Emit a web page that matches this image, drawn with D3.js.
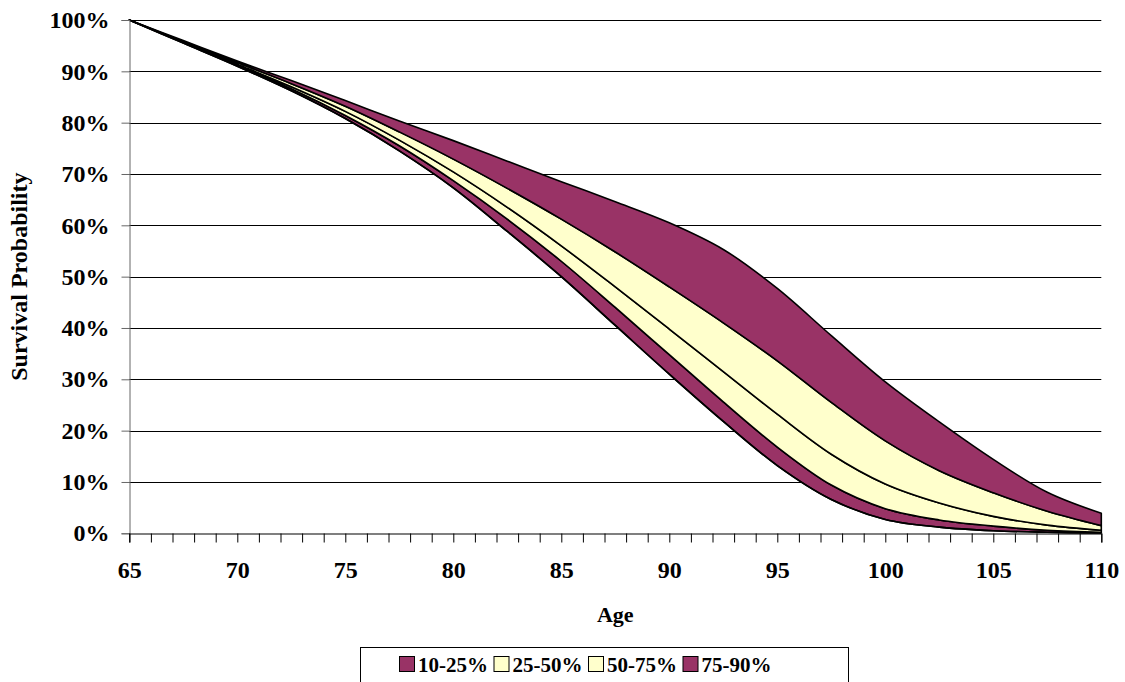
<!DOCTYPE html>
<html><head><meta charset="utf-8">
<script src="https://cdn.jsdelivr.net/npm/d3@7"></script>
<style>
html,body{margin:0;padding:0;background:#fff;}
svg text{font-family:"Liberation Serif","Times New Roman",serif;font-weight:bold;fill:#000;}
</style></head>
<body>
<svg id="chart" width="1125" height="682"></svg>
<script>
// ---- data ----
const ages = [65, 67.5, 70, 72.5, 75, 77.5, 80, 82.5, 85, 87.5, 90, 92.5, 95, 97.5, 100, 102.5, 105, 107.5, 110];
const p10 = [100, 95.5, 91.0, 86.2, 80.8, 74.5, 67.3, 58.8, 50.0, 40.5, 31.0, 21.8, 13.2, 6.6, 2.7, 1.2, 0.5, 0.2, 0.05];
const p25 = [100, 95.6, 91.2, 86.6, 81.4, 75.5, 68.7, 61.2, 53.0, 44.0, 34.8, 25.6, 16.8, 9.4, 4.8, 2.6, 1.4, 0.6, 0.2];
const p50 = [100, 95.7, 91.4, 87.0, 82.2, 76.6, 70.4, 63.5, 56.0, 48.0, 39.8, 31.5, 23.2, 15.4, 9.6, 5.9, 3.3, 1.6, 0.6];
const p75 = [100, 95.8, 91.7, 87.6, 83.2, 78.2, 72.9, 67.2, 61.2, 54.8, 48.0, 41.0, 33.6, 25.5, 18.0, 12.2, 7.9, 4.3, 1.5];
const p90 = [100, 96.0, 92.0, 88.2, 84.3, 80.3, 76.5, 72.5, 68.5, 64.6, 60.5, 55.3, 47.7, 38.5, 29.5, 21.7, 14.4, 8.0, 3.9];
const bandNames = ["10-25%", "25-50%", "50-75%", "75-90%"];
const bandColors = ["#993366", "#FFFFCC", "#FFFFCC", "#993366"];
const yTicks = [0, 10, 20, 30, 40, 50, 60, 70, 80, 90, 100];
const xLabelTicks = [65, 70, 75, 80, 85, 90, 95, 100, 105, 110];
const xTitle = "Age";
const yTitle = "Survival Probability";

// ---- layout ----
const svg = d3.select("#chart");
const x = d3.scaleLinear().domain([65, 110]).range([129.3, 1101.3]);
const y = d3.scaleLinear().domain([0, 100]).range([533.3, 20]);
const curve = d3.curveCatmullRom.alpha(0.5);

// gridlines
svg.append("g").selectAll("line").data(yTicks.filter(d => d > 0)).join("line")
  .attr("x1", x(65)).attr("x2", x(110))
  .attr("y1", d => Math.round(y(d)) + 0.5).attr("y2", d => Math.round(y(d)) + 0.5)
  .attr("stroke", "#000").attr("stroke-width", 1);

// bands
const bounds = [p10, p25, p50, p75, p90];
const bands = bandNames.map((n, i) => ({
  name: n, color: bandColors[i],
  values: ages.map((a, j) => ({ age: a, lo: bounds[i][j], hi: bounds[i + 1][j] }))
}));
const area = d3.area()
  .x(d => x(d.age)).y0(d => y(d.lo)).y1(d => y(d.hi))
  .curve(curve);
svg.append("g").selectAll("path").data(bands).join("path")
  .attr("d", d => area(d.values))
  .attr("fill", d => d.color)
  .attr("stroke", "#000").attr("stroke-width", 1.6).attr("stroke-linejoin", "round");

// bottom line (10th percentile) drawn on top
const line = d3.line().x((d, j) => x(ages[j])).y(d => y(d)).curve(curve);
svg.append("path").attr("d", line(p10)).attr("fill", "none").attr("stroke", "#000").attr("stroke-width", 1.6);

// y axis
const yAxis = svg.append("g").attr("transform", `translate(${Math.round(x(65)) + 0.5},0)`)
  .call(d3.axisLeft(y).tickValues(yTicks).tickSize(8).tickPadding(12).tickFormat(d => d + "%"));
yAxis.select(".domain").attr("stroke", "#666").attr("stroke-width", 1);
yAxis.selectAll(".tick line").attr("stroke", "#666");
yAxis.selectAll("text").attr("font-size", 24).style("font-family", "Liberation Serif").style("font-weight", "bold");

// x axis
const xAxis = svg.append("g").attr("transform", `translate(0,${Math.round(y(0)) + 0.5})`)
  .call(d3.axisBottom(x).tickValues(d3.range(65, 111, 1)).tickSize(9).tickPadding(18)
    .tickFormat(d => xLabelTicks.includes(d) ? String(d) : ""));
xAxis.select(".domain").attr("stroke", "#000").attr("stroke-width", 1.2);
xAxis.selectAll(".tick line").attr("stroke", "#000");
xAxis.selectAll("text").attr("font-size", 24).style("font-family", "Liberation Serif").style("font-weight", "bold");

// axis titles
svg.append("text").attr("x", x((65 + 110) / 2)).attr("y", 622)
  .attr("text-anchor", "middle").attr("font-size", 22).text(xTitle);
svg.append("text").attr("transform", `translate(27,${(y(0) + y(100)) / 2}) rotate(-90)`)
  .attr("text-anchor", "middle").attr("font-size", 24).text(yTitle);

// legend
const lg = svg.append("g");
lg.append("rect").attr("x", 360.5).attr("y", 647.5).attr("width", 488).attr("height", 60)
  .attr("fill", "#fff").attr("stroke", "#000").attr("stroke-width", 1);
const itemX = [399, 493.5, 588, 682.5];
const items = lg.selectAll("g.item").data(bands).join("g").attr("class", "item")
  .attr("transform", (d, i) => `translate(${itemX[i]},0)`);
items.append("rect").attr("x", 0.5).attr("y", 656.5).attr("width", 15).attr("height", 15)
  .attr("fill", d => d.color).attr("stroke", "#000").attr("stroke-width", 1);
items.append("text").attr("x", 19).attr("y", 671.5).attr("font-size", 21).text(d => d.name);
</script>
</body></html>
